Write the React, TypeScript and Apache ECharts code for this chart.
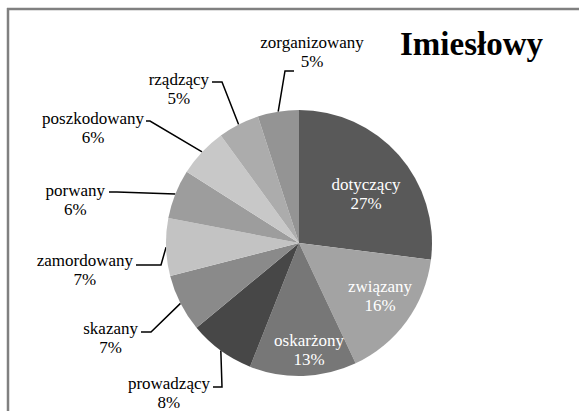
import React, { useEffect, useRef } from "react";
import * as echarts from "echarts";

// ---- data ----
const categories = [
  "dotyczący",
  "związany",
  "oskarżony",
  "prowadzący",
  "skazany",
  "zamordowany",
  "porwany",
  "poszkodowany",
  "rządzący",
  "zorganizowany",
];
const values = [27, 16, 13, 8, 7, 7, 6, 6, 5, 5];
const sliceColors = [
  "#595959",
  "#a3a3a3",
  "#777777",
  "#474747",
  "#8a8a8a",
  "#c3c3c3",
  "#9d9d9d",
  "#c8c8c8",
  "#acacac",
  "#949494",
];
const titleText = "Imiesłowy";

// ---- layout (label placement, px) ----
const CENTER = [299, 243];
const RADIUS = 133;
type Place = { x: number; y: number; align: string; elbow?: number[]; endX?: number; inside?: boolean };
const labelPlacement: Place[] = [
  { x: 366, y: 194, align: "center", inside: true },
  { x: 380, y: 296, align: "center", inside: true },
  { x: 309, y: 349.5, align: "center", inside: true },
  { x: 210, y: 392.5, align: "right", elbow: [222, 387], endX: 213 },
  { x: 138, y: 337.5, align: "right", elbow: [151, 332], endX: 141 },
  { x: 133, y: 269.5, align: "right", elbow: [161, 265], endX: 136 },
  { x: 105, y: 199.5, align: "right", elbow: [117, 192], endX: 109 },
  { x: 144, y: 127.5, align: "right", elbow: [150, 121], endX: 146 },
  { x: 209, y: 88.5, align: "right", elbow: [222, 82], endX: 212 },
  { x: 312, y: 51.5, align: "center", elbow: [285, 71], endX: 294 },
];

const FONT = "Liberation Serif";
const LABEL_SIZE = 17;

export default function App() {
  const ref = useRef<HTMLDivElement>(null);

  useEffect(() => {
    if (!ref.current) return;
    const chart = echarts.init(ref.current, undefined, { renderer: "svg" });

    const data = categories.map((name, i) => {
      const inside = !!labelPlacement[i].inside;
      const color = inside ? "#ffffff" : "#000000";
      return {
        name,
        value: values[i],
        itemStyle: { color: sliceColors[i] },
        label: {
          position: inside ? "inside" : "outside",
          color,
          fontFamily: FONT,
          fontSize: LABEL_SIZE,
          rich: {
            n: {
              align: "center",
              fontFamily: FONT,
              fontSize: LABEL_SIZE,
              lineHeight: 19,
              color,
            },
          },
        },
        labelLine: { show: !inside },
      };
    });

    chart.setOption({
      animation: false,
      backgroundColor: "#ffffff",
      textStyle: { fontFamily: FONT },
      title: {
        text: titleText,
        left: 400,
        top: 27,
        padding: 0,
        textStyle: {
          fontFamily: FONT,
          fontWeight: "bold",
          fontSize: 33,
          color: "#000000",
        },
      },
      graphic: [
        {
          type: "line",
          shape: { x1: 7, y1: 9, x2: 579, y2: 9 },
          style: { stroke: "#808080", lineWidth: 2.5 },
          silent: true,
        },
        {
          type: "line",
          shape: { x1: 8, y1: 8, x2: 8, y2: 411 },
          style: { stroke: "#808080", lineWidth: 2.5 },
          silent: true,
        },
      ],
      series: [
        {
          type: "pie",
          center: CENTER,
          radius: RADIUS,
          startAngle: 90,
          clockwise: true,
          avoidLabelOverlap: false,
          itemStyle: { borderWidth: 0 },
          emphasis: { disabled: true },
          label: {
            show: true,
            fontFamily: FONT,
            fontSize: LABEL_SIZE,
            lineHeight: 19,
            formatter: (p: any) => `{n|${p.name}}\n{n|${Math.round(p.percent)}%}`,
          },
          labelLine: {
            show: true,
            length: 20,
            length2: 10,
            smooth: false,
            lineStyle: { color: "#000000", width: 1.5 },
          },
          labelLayout: (params: any) => {
            const p = labelPlacement[params.dataIndex];
            const out: any = {
              x: p.x,
              y: p.y,
              align: p.align,
              verticalAlign: "middle",
            };
            if (!p.inside && params.labelLinePoints && p.elbow) {
              const start = params.labelLinePoints[0];
              out.labelLinePoints = [
                [start[0], start[1]],
                [p.elbow[0], p.elbow[1]],
                [p.endX, p.elbow[1]],
              ];
            }
            return out;
          },
          data,
        },
      ],
    });

    return () => chart.dispose();
  }, []);

  return (
    <div
      ref={ref}
      style={{ position: "fixed", left: 0, top: 0, width: 579, height: 411 }}
    />
  );
}
